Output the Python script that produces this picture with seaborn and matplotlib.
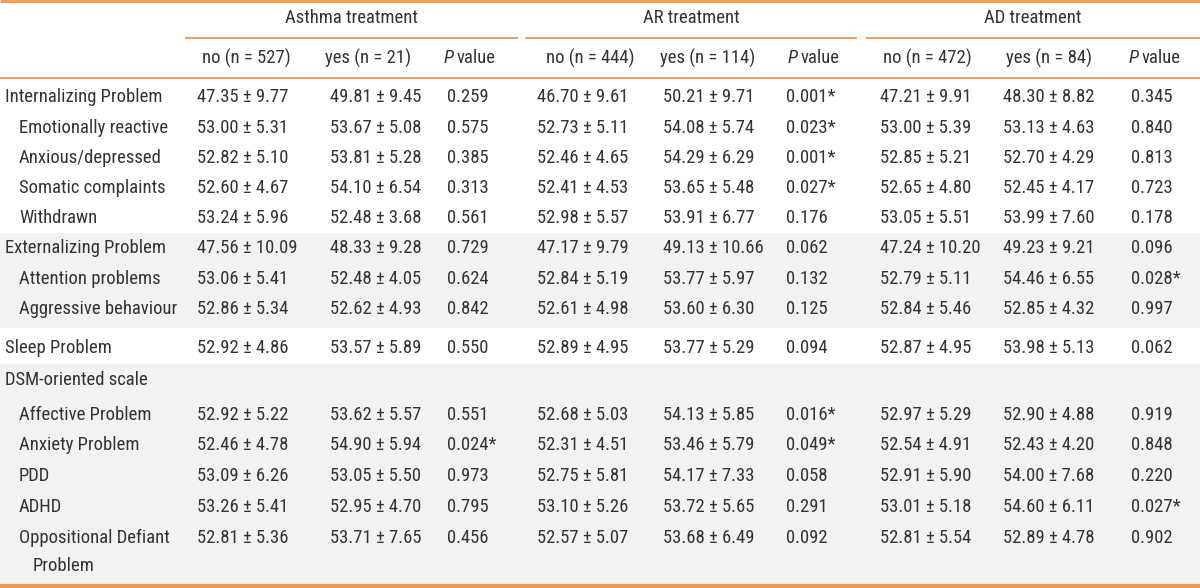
import matplotlib
matplotlib.use("Agg")
import matplotlib.pyplot as plt
from matplotlib import font_manager as fm
import seaborn as sns

# table content
groups = ["Asthma treatment", "AR treatment", "AD treatment"]
group_n_no = [527, 444, 472]
group_n_yes = [21, 114, 84]

labels = ["Internalizing Problem", "Emotionally reactive", "Anxious/depressed",
          "Somatic complaints", "Withdrawn", "Externalizing Problem",
          "Attention problems", "Aggressive behaviour", "Sleep Problem",
          "DSM-oriented scale", "Affective Problem", "Anxiety Problem", "PDD",
          "ADHD", "Oppositional Defiant\nProblem"]
indent = [0, 1, 1, 1, 1, 0, 1, 1, 0, 0, 1, 1, 1, 1, 1]

asthma_no = ["47.35±9.77", "53.00±5.31", "52.82±5.10", "52.60±4.67", "53.24±5.96",
             "47.56±10.09", "53.06±5.41", "52.86±5.34", "52.92±4.86", "",
             "52.92±5.22", "52.46±4.78", "53.09±6.26", "53.26±5.41", "52.81±5.36"]
asthma_yes = ["49.81±9.45", "53.67±5.08", "53.81±5.28", "54.10±6.54", "52.48±3.68",
              "48.33±9.28", "52.48±4.05", "52.62±4.93", "53.57±5.89", "",
              "53.62±5.57", "54.90±5.94", "53.05±5.50", "52.95±4.70", "53.71±7.65"]
asthma_p = ["0.259", "0.575", "0.385", "0.313", "0.561", "0.729", "0.624", "0.842",
            "0.550", "", "0.551", "0.024*", "0.973", "0.795", "0.456"]
ar_no = ["46.70±9.61", "52.73±5.11", "52.46±4.65", "52.41±4.53", "52.98±5.57",
         "47.17±9.79", "52.84±5.19", "52.61±4.98", "52.89±4.95", "",
         "52.68±5.03", "52.31±4.51", "52.75±5.81", "53.10±5.26", "52.57±5.07"]
ar_yes = ["50.21±9.71", "54.08±5.74", "54.29±6.29", "53.65±5.48", "53.91±6.77",
          "49.13±10.66", "53.77±5.97", "53.60±6.30", "53.77±5.29", "",
          "54.13±5.85", "53.46±5.79", "54.17±7.33", "53.72±5.65", "53.68±6.49"]
ar_p = ["0.001*", "0.023*", "0.001*", "0.027*", "0.176", "0.062", "0.132", "0.125",
        "0.094", "", "0.016*", "0.049*", "0.058", "0.291", "0.092"]
ad_no = ["47.21±9.91", "53.00±5.39", "52.85±5.21", "52.65±4.80", "53.05±5.51",
         "47.24±10.20", "52.79±5.11", "52.84±5.46", "52.87±4.95", "",
         "52.97±5.29", "52.54±4.91", "52.91±5.90", "53.01±5.18", "52.81±5.54"]
ad_yes = ["48.30±8.82", "53.13±4.63", "52.70±4.29", "52.45±4.17", "53.99±7.60",
          "49.23±9.21", "54.46±6.55", "52.85±4.32", "53.98±5.13", "",
          "52.90±4.88", "52.43±4.20", "54.00±7.68", "54.60±6.11", "52.89±4.78"]
ad_p = ["0.345", "0.840", "0.813", "0.723", "0.178", "0.096", "0.028*", "0.997",
        "0.062", "", "0.919", "0.848", "0.220", "0.027*", "0.902"]

columns = [asthma_no, asthma_yes, asthma_p, ar_no, ar_yes, ar_p, ad_no, ad_yes, ad_p]

# layout (pixels)
row_y = [97, 128, 158, 188, 218, 248, 279, 309, 348, 380, 415, 445, 476, 507, 538]
col_left = [197, 330, 447, 537, 663, 786, 880, 1003, 1131]
head_center = [246, 368, 471, 590, 708, 815, 927, 1049, 1156]
group_span = [(185, 518), (525, 857), (866, 1200)]
gray_bands = [(233, 328), (364, 585)]

orange = "#e99a55"
ink = "#333333"
gray_bg = "#f1f2f2"

sns.set_theme(style="white")

# pick a condensed face if one is installed
entries = fm.fontManager.ttflist
names = {f.name for f in entries}
stretch = "normal"
if "Roboto Condensed" in names:
    family = "Roboto Condensed"
elif "Liberation Sans Narrow" in names:
    family = "Liberation Sans Narrow"
elif any(f.name == "DejaVu Sans" and "ondensed" in f.fname for f in entries):
    family = "DejaVu Sans"
    stretch = "condensed"
else:
    family = "Roboto"
plt.rcParams["font.family"] = [family, "DejaVu Sans"]
plt.rcParams["font.stretch"] = stretch

fig = plt.figure(figsize=(12, 5.88), dpi=100)
ax = fig.add_axes([0, 0, 1, 1])
ax.set_xlim(0, 1200)
ax.set_ylim(588, 0)
ax.axis("off")

# scale the font so a reference label has roughly the reference width
probe = ax.text(0, 0, "Internalizing Problem", fontsize=14)
w = probe.get_window_extent(fig.canvas.get_renderer()).width
probe.remove()
fs = min(15.0, 14 * 157 / w)


def pm(s):
    return s.replace("±", " ± ")


for top, bottom in gray_bands:
    ax.axhspan(top, bottom, color=gray_bg, lw=0, zorder=0)

# rules
ax.hlines(1, 0, 1200, color=orange, lw=2)
for x0, x1 in group_span:
    ax.hlines(38, x0, x1, color=orange, lw=1.3)
ax.hlines(78, 0, 1200, color=orange, lw=1.3)
ax.hlines(586, 0, 1200, color=orange, lw=3)

# headers
for i, g in enumerate(groups):
    x0, x1 = group_span[i]
    ax.text((x0 + x1) / 2, 18, g, ha="center", va="center", fontsize=fs, color=ink)
    no_c, yes_c, p_c = head_center[3 * i:3 * i + 3]
    ax.text(no_c, 58, f"no (n = {group_n_no[i]})", ha="center", va="center",
            fontsize=fs, color=ink)
    ax.text(yes_c, 58, f"yes (n = {group_n_yes[i]})", ha="center", va="center",
            fontsize=fs, color=ink)
    ax.text(p_c - 17, 58, "P", ha="right", va="center", fontsize=fs,
            color=ink, style="italic")
    ax.text(p_c - 14, 58, "value", ha="left", va="center", fontsize=fs, color=ink)

# body
for r, lab in enumerate(labels):
    y = row_y[r]
    x = 5 + 14 * indent[r]
    parts = lab.split("\n")
    ax.text(x, y, parts[0], ha="left", va="center", fontsize=fs, color=ink)
    if len(parts) > 1:
        ax.text(x + 14, y + 28, parts[1], ha="left", va="center", fontsize=fs, color=ink)
    for c, col in enumerate(columns):
        ax.text(col_left[c], y, pm(col[r]), ha="left", va="center", fontsize=fs, color=ink)

fig.savefig("out.png", dpi=100)
